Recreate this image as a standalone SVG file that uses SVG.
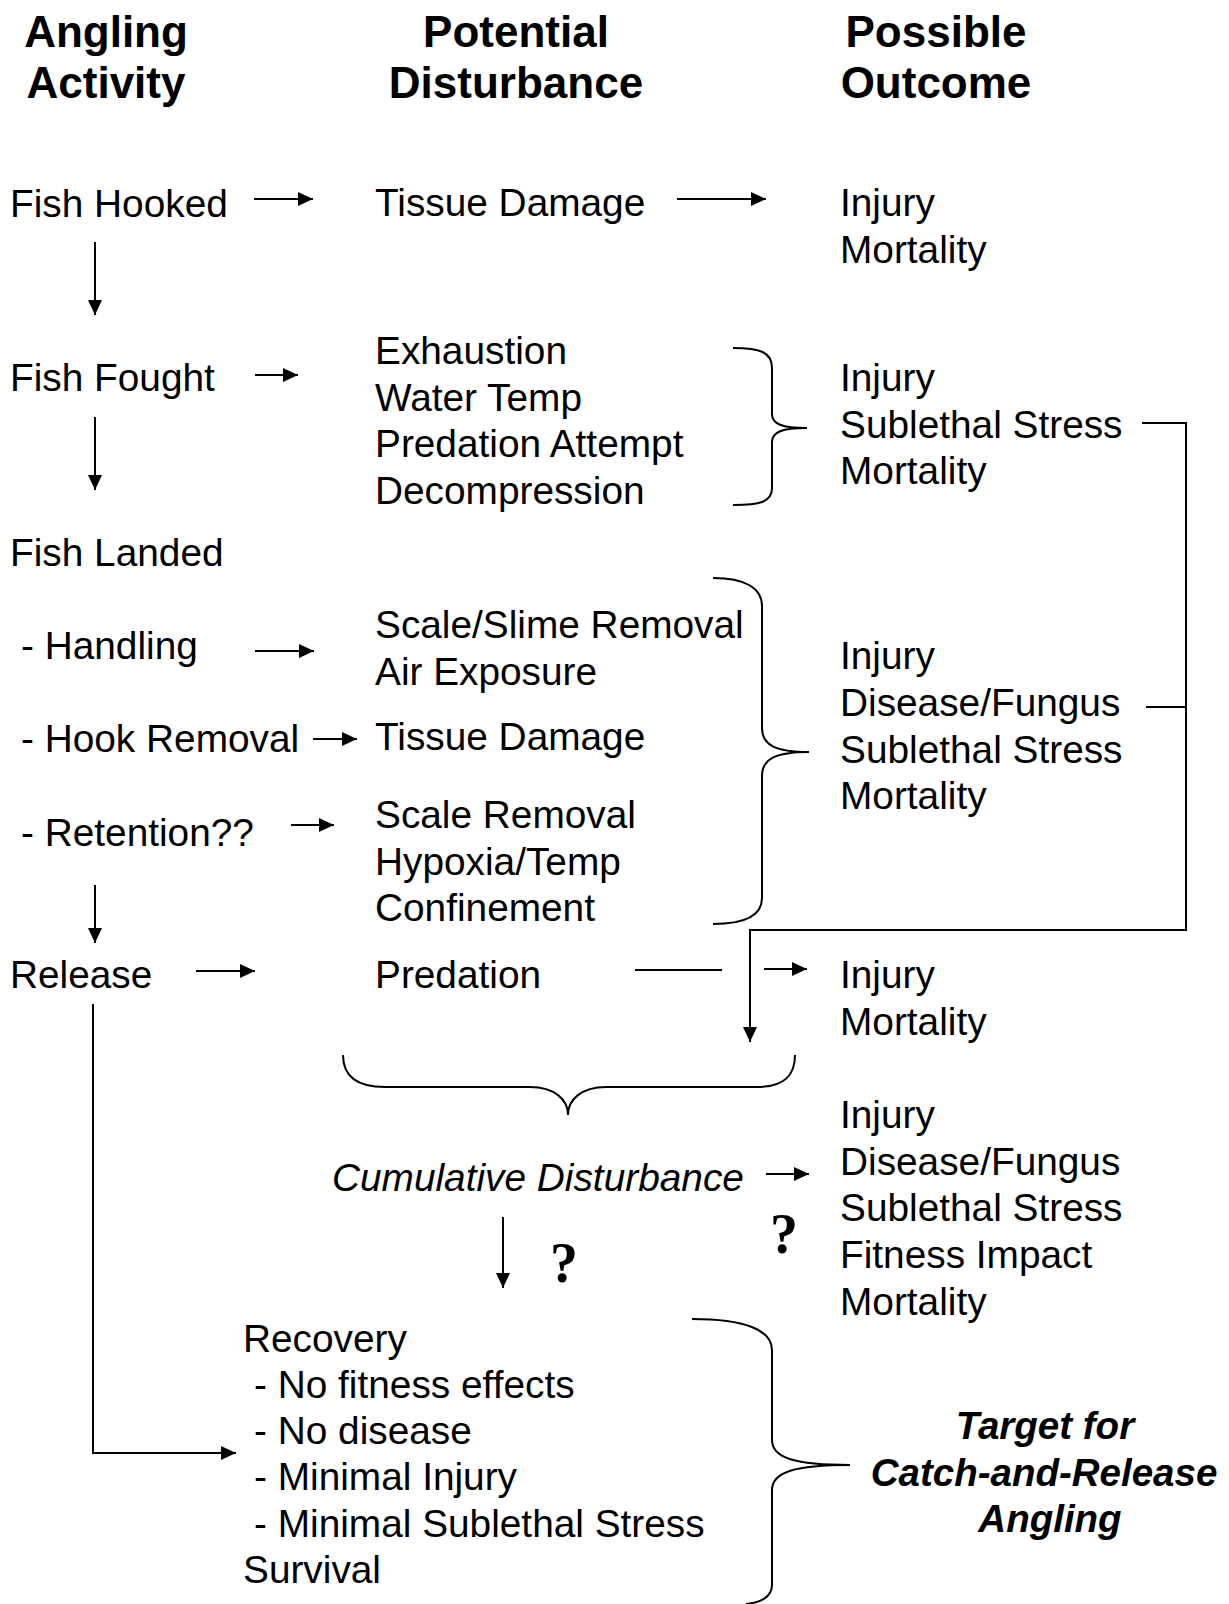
<svg xmlns="http://www.w3.org/2000/svg" width="1229" height="1604" viewBox="0 0 1229 1604">
  <style>
    text { font-family: "Liberation Sans", Arial, sans-serif; fill: #000; }
    .hd { font-size: 44px; font-weight: bold; text-anchor: middle; }
    .t { font-size: 38.8px; }
    .cum { font-size: 38.8px; font-style: italic; }
    .tgt { font-size: 38.5px; font-weight: bold; font-style: italic; text-anchor: middle; }
    .q { font-family: "Liberation Serif", "Times New Roman", serif; font-size: 56px; font-weight: bold; }
    .ln { fill: none; stroke: #000; stroke-width: 2; }
    .arr { fill: none; stroke: #000; stroke-width: 2; marker-end: url(#ah); }
    .brace { fill: none; stroke: #000; stroke-width: 2; }
  </style>
  <defs>
    <marker id="ah" markerUnits="userSpaceOnUse" markerWidth="15" markerHeight="14" refX="15" refY="7" orient="auto">
      <path d="M0,0 L15,7 L0,14 z" fill="#000"/>
    </marker>
  </defs>
  <rect width="1229" height="1604" fill="#fff"/>

  <!-- column headings -->
  <g id="head-activity">
    <text class="hd" x="106" y="47">Angling</text>
    <text class="hd" x="106" y="98">Activity</text>
  </g>
  <g id="head-disturbance">
    <text class="hd" x="516" y="47">Potential</text>
    <text class="hd" x="516" y="98">Disturbance</text>
  </g>
  <g id="head-outcome">
    <text class="hd" x="936" y="47">Possible</text>
    <text class="hd" x="936" y="98">Outcome</text>
  </g>

  <!-- angling activity column -->
  <g id="fish-hooked"><text class="t" x="10" y="217">Fish Hooked</text></g>
  <g id="fish-fought"><text class="t" x="10" y="391">Fish Fought</text></g>
  <g id="fish-landed"><text class="t" x="10" y="566">Fish Landed</text></g>
  <g id="handling"><text class="t" x="21" y="659">- Handling</text></g>
  <g id="hook-removal"><text class="t" x="21" y="752">- Hook Removal</text></g>
  <g id="retention"><text class="t" x="21" y="846">- Retention??</text></g>
  <g id="release"><text class="t" x="10" y="988">Release</text></g>

  <!-- potential disturbance column -->
  <g id="dist-hooked"><text class="t" x="375" y="216">Tissue Damage</text></g>
  <g id="dist-fought">
    <text class="t" x="375" y="364">Exhaustion</text>
    <text class="t" x="375" y="411">Water Temp</text>
    <text class="t" x="375" y="457">Predation Attempt</text>
    <text class="t" x="375" y="504">Decompression</text>
  </g>
  <g id="dist-handling">
    <text class="t" x="375" y="638">Scale/Slime Removal</text>
    <text class="t" x="375" y="685">Air Exposure</text>
  </g>
  <g id="dist-hook-removal"><text class="t" x="375" y="750">Tissue Damage</text></g>
  <g id="dist-retention">
    <text class="t" x="375" y="828">Scale Removal</text>
    <text class="t" x="375" y="875">Hypoxia/Temp</text>
    <text class="t" x="375" y="921">Confinement</text>
  </g>
  <g id="dist-release"><text class="t" x="375" y="988">Predation</text></g>
  <g id="cumulative"><text class="cum" x="332" y="1191">Cumulative Disturbance</text></g>

  <!-- possible outcome column -->
  <g id="out-hooked">
    <text class="t" x="840" y="216">Injury</text>
    <text class="t" x="840" y="263">Mortality</text>
  </g>
  <g id="out-fought">
    <text class="t" x="840" y="391">Injury</text>
    <text class="t" x="840" y="438">Sublethal Stress</text>
    <text class="t" x="840" y="484">Mortality</text>
  </g>
  <g id="out-landed">
    <text class="t" x="840" y="669">Injury</text>
    <text class="t" x="840" y="716">Disease/Fungus</text>
    <text class="t" x="840" y="763">Sublethal Stress</text>
    <text class="t" x="840" y="809">Mortality</text>
  </g>
  <g id="out-release">
    <text class="t" x="840" y="988">Injury</text>
    <text class="t" x="840" y="1035">Mortality</text>
  </g>
  <g id="out-cumulative">
    <text class="t" x="840" y="1128">Injury</text>
    <text class="t" x="840" y="1175">Disease/Fungus</text>
    <text class="t" x="840" y="1221">Sublethal Stress</text>
    <text class="t" x="840" y="1268">Fitness Impact</text>
    <text class="t" x="840" y="1315">Mortality</text>
  </g>

  <!-- recovery outcome and its label -->
  <g id="recovery">
    <text class="t" x="243" y="1352">Recovery</text>
    <text class="t" x="254" y="1398">- No fitness effects</text>
    <text class="t" x="254" y="1444">- No disease</text>
    <text class="t" x="254" y="1490">- Minimal Injury</text>
    <text class="t" x="254" y="1537">- Minimal Sublethal Stress</text>
    <text class="t" x="243" y="1583">Survival</text>
  </g>
  <g id="target">
    <text class="tgt" x="1045" y="1439">Target for</text>
    <text class="tgt" x="1044" y="1486">Catch-and-Release</text>
    <text class="tgt" x="1050" y="1532">Angling</text>
  </g>

  <!-- uncertainty marks -->
  <g id="q-recovery"><text class="q" x="550" y="1282">?</text></g>
  <g id="q-outcome"><text class="q" x="770" y="1253">?</text></g>

  <!-- braces -->
  <g id="braces">
    <path class="brace" d="M733,348 C760,348 772,352 772,368 L772,414 C772,424 782,428 807,428 C782,428 772,432 772,442 L772,488 C772,502 760,505 733,505"/>
    <path class="brace" d="M713,578 C745,578 762,588 762,606 L762,728 C762,745 775,752 809,752 C775,752 762,759 762,776 L762,898 C762,916 745,924 713,924"/>
    <path class="brace" d="M343,1055 C343,1075 355,1087 385,1087 L530,1087 C555,1087 568,1100 568,1115 C568,1100 581,1087 606,1087 L757,1087 C785,1087 795,1075 795,1055"/>
    <path class="brace" d="M692,1319 C745,1319 772,1330 772,1350 L772,1440 C772,1458 795,1465 850,1465 C795,1465 772,1472 772,1490 L772,1585 C772,1597 760,1603 746,1604"/>
  </g>

  <!-- connectors -->
  <g id="connectors">
    <line class="arr" x1="254" y1="199" x2="313" y2="199"/>
    <line class="arr" x1="677" y1="199" x2="766" y2="199"/>
    <line class="arr" x1="95" y1="242" x2="95" y2="315"/>
    <line class="arr" x1="255" y1="375" x2="298" y2="375"/>
    <line class="arr" x1="95" y1="417" x2="95" y2="490"/>
    <line class="arr" x1="255" y1="651" x2="314" y2="651"/>
    <line class="arr" x1="313" y1="739" x2="357" y2="739"/>
    <line class="arr" x1="291" y1="825" x2="334" y2="825"/>
    <line class="arr" x1="95" y1="885" x2="95" y2="943"/>
    <line class="arr" x1="196" y1="971" x2="255" y2="971"/>
    <line class="ln" x1="635" y1="970" x2="722" y2="970"/>
    <line class="arr" x1="764" y1="969" x2="807" y2="969"/>
    <line class="arr" x1="766" y1="1174" x2="809" y2="1174"/>
    <line class="arr" x1="503" y1="1217" x2="503" y2="1288"/>
    <polyline class="arr" points="93,1004 93,1453 236,1453"/>
    <polyline class="arr" points="1142,423 1186,423 1186,930 750,930 750,1042"/>
    <line class="ln" x1="1146" y1="707" x2="1186" y2="707"/>
  </g>
</svg>
